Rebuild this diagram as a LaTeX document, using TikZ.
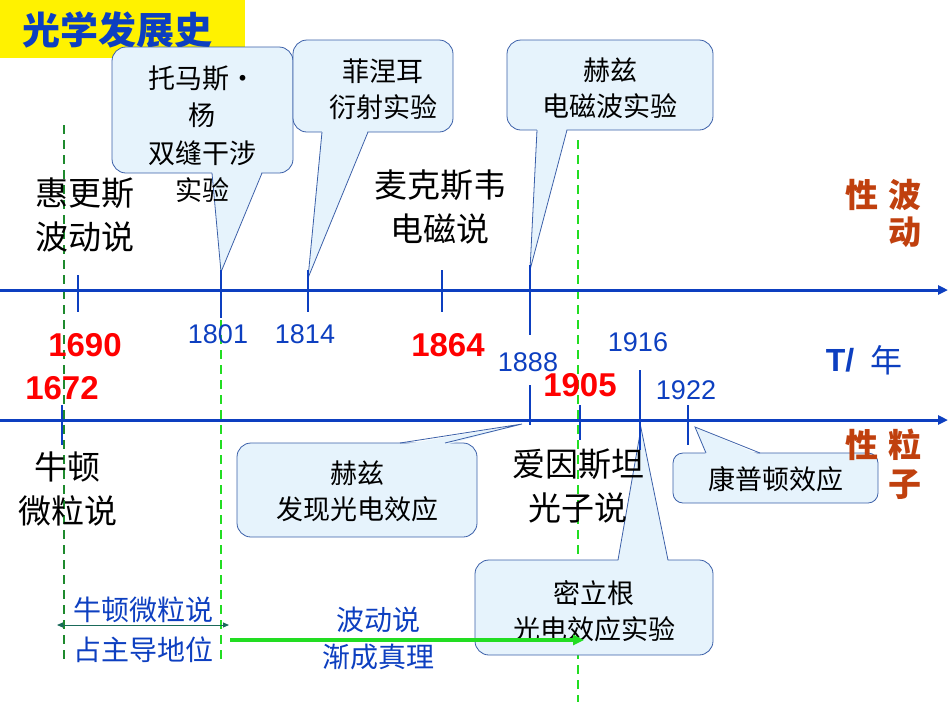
\documentclass[tikz,border=0pt]{standalone}
\usepackage{fontspec}
\setmainfont{Liberation Sans}
\newfontfamily\cjk{Noto Sans CJK SC}
\usetikzlibrary{arrows.meta}
\definecolor{axisblue}{HTML}{0D3FC0}
\definecolor{boxfill}{HTML}{E6F3FC}
\definecolor{boxline}{HTML}{3A5FA8}
\definecolor{wavebrown}{HTML}{C0400E}
\definecolor{dgreen}{HTML}{1E8A2E}
\definecolor{lgreen}{HTML}{22DD22}
\definecolor{teal2}{HTML}{1A6A5A}
\begin{document}
\begin{tikzpicture}[x=1pt,y=-1pt,
  axis/.style={axisblue,line width=3pt,-{Triangle[length=10pt,width=9pt]}},
  tick/.style={axisblue,line width=2.5pt},
  yr/.style={axisblue,font=\fontsize{27}{29}\selectfont},
  ryr/.style={red,font=\bfseries\fontsize{33}{35}\selectfont},
  big/.style={black,font=\cjk\fontsize{33}{44}\selectfont,align=center},
  mid/.style={black,font=\cjk\fontsize{27}{36}\selectfont,align=center},
  brown/.style={wavebrown,font=\cjk\bfseries\fontsize{33}{35}\selectfont},
  blu/.style={axisblue,font=\cjk\fontsize{28}{30}\selectfont,align=center},
  callbox/.style={fill=boxfill,draw=boxline,line width=0.8pt,rounded corners=14pt},
  ptr/.style={draw=boxline,line width=0.8pt},
  ptrf/.style={fill=boxfill}]
\useasboundingbox (0,0) rectangle (950,713);
% title
\fill[yellow] (0,0) rectangle (245,58);
\node[font=\cjk\bfseries\itshape\fontsize{38}{40}\selectfont,text=axisblue] (title) at (117,30) {光学发展史};
% dashed guide lines
\draw[dgreen,line width=1.2pt,dash pattern=on 9pt off 6pt] (64,125) -- (64,660);
\draw[lgreen,line width=1.2pt,dash pattern=on 9pt off 6pt] (221,125) -- (221,660);
\draw[lgreen,line width=1.2pt,dash pattern=on 9pt off 6pt] (578,140) -- (578,702);
% Young
\coordinate (pY) at (221,272);
\draw[callbox] (112,47) rectangle (293,173);
\fill[ptrf] (212,171) -- (pY) -- (262,171) -- cycle;
\draw[ptr] (212,173) -- (pY) -- (262,173);
\node[mid,font=\cjk\fontsize{27}{37.5}\selectfont] (young) at (202,134) {托马斯·\\杨\\双缝干涉\\实验};
% Fresnel
\coordinate (pF) at (308,278);
\draw[callbox] (293,40) rectangle (453,132);
\fill[ptrf] (322,130) -- (pF) -- (368,130) -- cycle;
\draw[ptr] (322,132) -- (pF) -- (368,132);
\node[mid] (fres) at (383,89) {菲涅耳\\衍射实验};
% Hertz EM
\coordinate (pH) at (530,270);
\draw[callbox] (507,40) rectangle (713,130);
\fill[ptrf] (537,128) -- (pH) -- (567,128) -- cycle;
\draw[ptr] (537,130) -- (pH) -- (567,130);
\node[mid] (hertz1) at (610,88) {赫兹\\电磁波实验};
% Hertz photo
\coordinate (pH2) at (522,424);
\draw[callbox] (237,443) rectangle (477,537);
\fill[ptrf] (400,445) -- (pH2) -- (445,445) -- cycle;
\draw[ptr] (400,443) -- (pH2) -- (445,443);
\node[mid] (hertz2) at (357,491) {赫兹\\发现光电效应};
% Millikan
\coordinate (pM) at (641,428);
\draw[callbox] (475,560) rectangle (713,655);
\fill[ptrf] (618,562) -- (pM) -- (668,562) -- cycle;
\draw[ptr] (618,560) -- (pM) -- (668,560);
\node[mid] (mill) at (594,611) {密立根\\光电效应实验};
% Compton
\coordinate (pC) at (695,427);
\draw[callbox,rounded corners=10pt] (673,453) rectangle (878,503);
\fill[ptrf] (706,455) -- (pC) -- (760,455) -- cycle;
\draw[ptr] (706,453) -- (pC) -- (760,453);
\node[mid] (comp) at (776,479) {康普顿效应};
% axes
\coordinate (a0) at (0,290); \coordinate (a1) at (948,290);
\coordinate (b0) at (0,420); \coordinate (b1) at (948,420);
\draw[axis] (a0) -- (a1);
\draw[axis] (b0) -- (b1);
% ticks upper
\draw[tick] (78,275) -- (78,312);
\draw[tick] (221,270) -- (221,318);
\draw[tick] (308,270) -- (308,312);
\draw[tick] (442,270) -- (442,312);
\draw[tick] (530,265) -- (530,335);
% ticks lower
\draw[tick] (62,405) -- (62,445);
\draw[tick] (530,385) -- (530,425);
\draw[tick] (580,405) -- (580,440);
\draw[tick] (640,370) -- (640,450);
\draw[tick] (688,405) -- (688,445);
% years
\node[ryr] (y1690) at (85,345) {1690};
\node[ryr] (y1672) at (62,388) {1672};
\node[yr] (y1801) at (218,334) {1801};
\node[yr] (y1814) at (305,334) {1814};
\node[ryr] (y1864) at (448,345) {1864};
\node[yr] (y1888) at (528,362) {1888};
\node[ryr] (y1905) at (580,385) {1905};
\node[yr] (y1916) at (638,342) {1916};
\node[yr] (y1922) at (686,390) {1922};
\node[axisblue,font=\bfseries\fontsize{32}{34}\selectfont] (T) at (840,360) {T/};
\node[axisblue,font=\cjk\fontsize{32}{34}\selectfont] (nian) at (886,360) {年};
% big labels
\node[big] (huy) at (85,215) {惠更斯\\波动说};
\node[big] (max) at (440,207) {麦克斯韦\\电磁说};
\node[big] (newt) at (68,489) {牛顿\\微粒说};
\node[big] (ein) at (578,486) {爱因斯坦\\光子说};
% brown labels
\node[brown] (x1) at (862,195) {性};
\node[brown] (w1) at (905,195) {波};
\node[brown] (w2) at (905,232) {动};
\node[brown] (x2) at (862,445) {性};
\node[brown] (p1) at (905,445) {粒};
\node[brown] (p2) at (905,485) {子};
% bottom
\node[blu] (nd1) at (143,610) {牛顿微粒说};
\node[blu] (nd2) at (143,650) {占主导地位};
\coordinate (dl) at (57,625); \coordinate (dr) at (229,625);
\draw[teal2,line width=1pt,{Triangle[length=6pt,width=5pt]}-{Triangle[length=6pt,width=5pt]}] (dl) -- (dr);
\coordinate (gl) at (230,640); \coordinate (gr) at (584,640);
\draw[lgreen,line width=3.5pt,-{Triangle[length=11pt,width=10pt]}] (gl) -- (gr);
\node[blu] (wv1) at (378,620) {波动说};
\node[blu] (wv2) at (378,657) {渐成真理};
\end{tikzpicture}
\end{document}
